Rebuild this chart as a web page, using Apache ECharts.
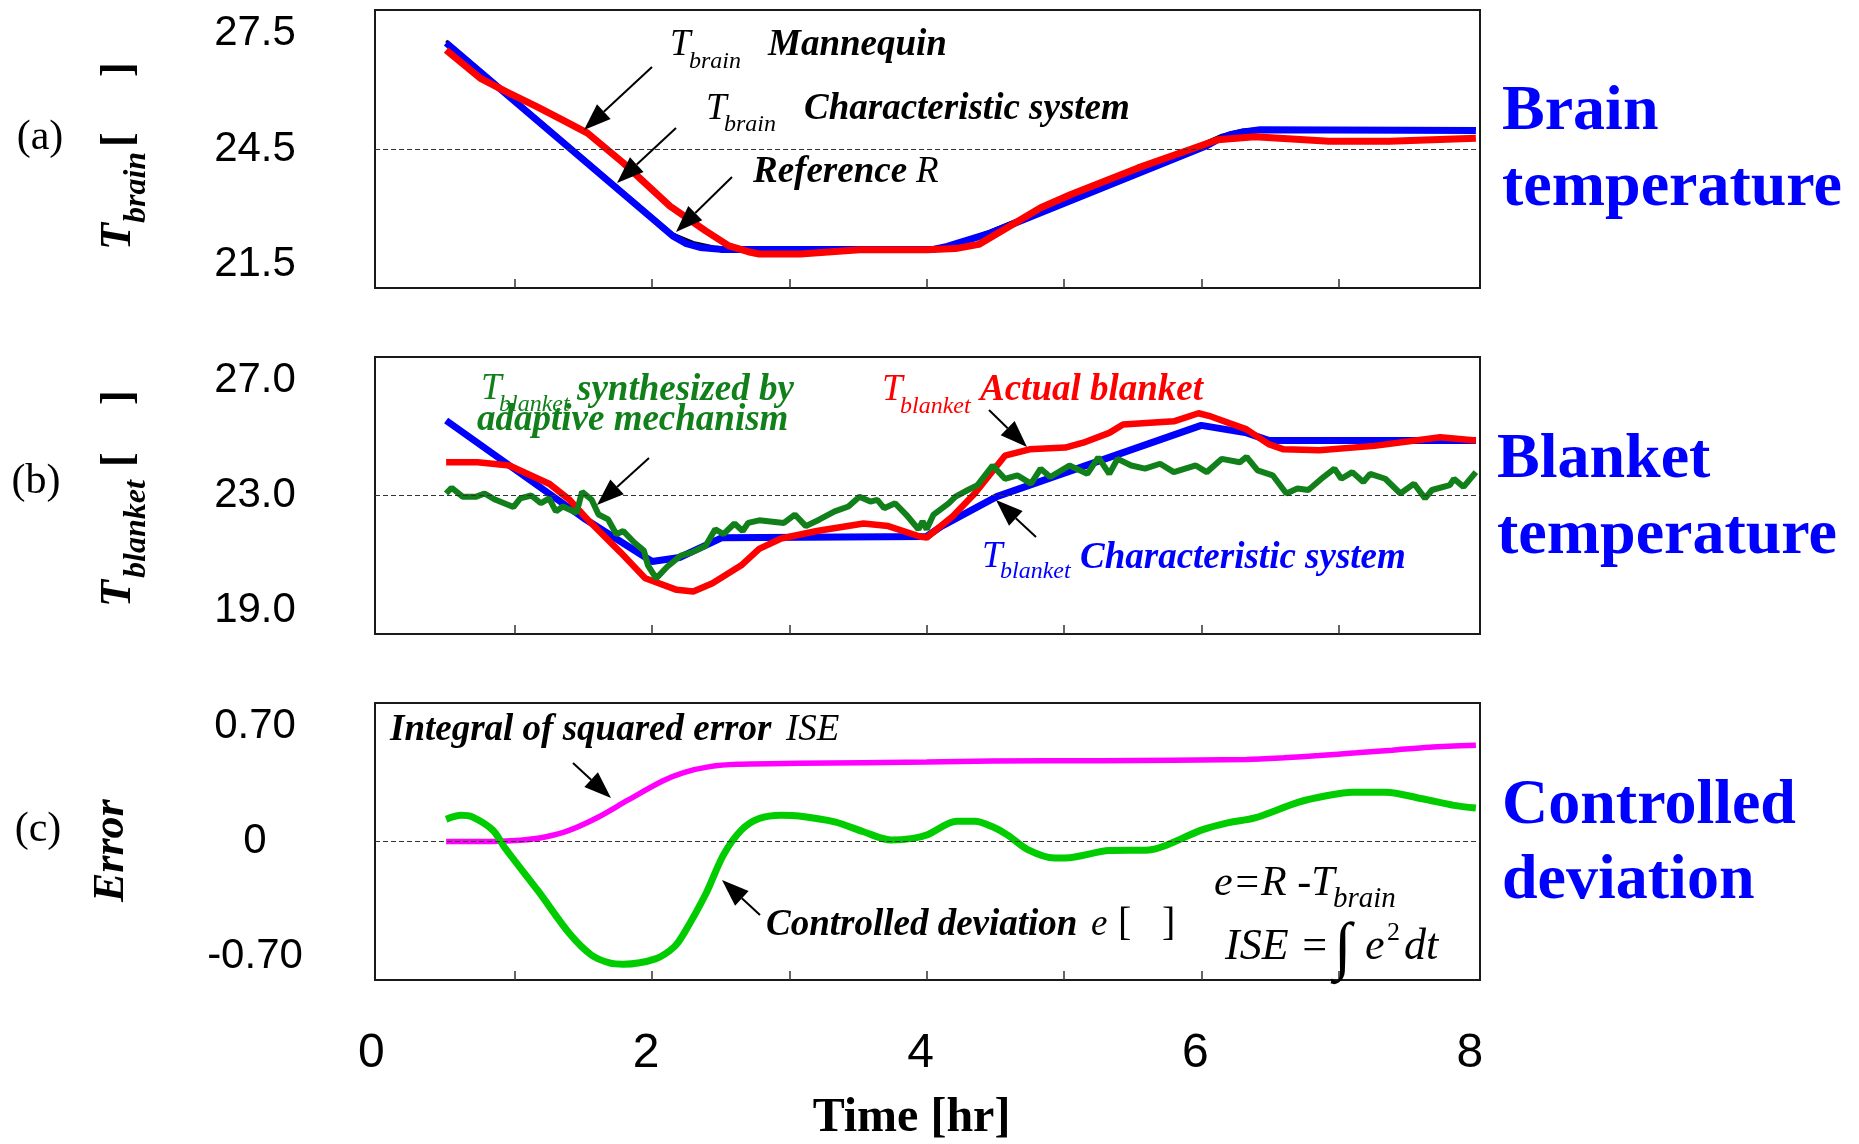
<!DOCTYPE html>
<html>
<head>
<meta charset="utf-8">
<script src="https://cdn.jsdelivr.net/npm/echarts@6/dist/echarts.min.js"></script>
<style>
html, body { margin: 0; padding: 0; background: #fff; }
#chart { width: 1859px; height: 1144px; }
</style>
</head>
<body>
<div id="chart"></div>
<script>
// (a) brain temperature
const refR = [[0.5,27.3],[2.15,22.3],[2.3,22.08],[2.45,21.96],[2.6,21.92],[4.0,21.92],[4.15,22.0],[4.3,22.17],[4.45,22.36],[6.0,24.62],[6.15,24.86],[6.3,24.99],[6.45,25.03],[8.0,25.03]];
const brainChar = [[0.5,27.25],[2.15,22.25],[2.25,22.05],[2.35,21.95],[2.5,21.9],[4.05,21.9],[4.15,21.98],[4.25,22.09],[4.47,22.33],[6.03,24.57],[6.12,24.74],[6.21,24.87],[6.32,24.95],[6.43,25.0],[8.0,24.98]];
const brainMannequin = [[0.5,27.06],[0.75,26.33],[0.94,25.98],[1.16,25.6],[1.35,25.25],[1.53,24.91],[1.79,24.14],[2.13,23.02],[2.39,22.38],[2.56,21.99],[2.7,21.84],[2.78,21.78],[3.08,21.78],[3.51,21.89],[4.0,21.89],[4.21,21.92],[4.38,22.03],[4.61,22.51],[4.83,22.98],[5.05,23.32],[5.54,24.01],[5.81,24.35],[6.12,24.74],[6.39,24.82],[6.93,24.7],[7.37,24.7],[8.0,24.78]];

// (b) blanket temperature
const blanketChar = [[0.5,25.6],[1.5,22.22],[2.0,20.71],[2.2,20.85],[2.51,21.54],[4.0,21.58],[4.11,21.94],[4.51,22.96],[6.0,25.43],[6.33,25.17],[6.49,24.91],[8.0,24.91]];
const blanketActual = [[0.5,24.15],[0.73,24.15],[0.96,24.04],[1.25,23.41],[1.4,22.85],[1.53,22.17],[1.77,21.03],[1.95,20.13],[2.18,19.73],[2.3,19.67],[2.44,19.96],[2.65,20.58],[2.78,21.15],[2.94,21.51],[3.2,21.77],[3.54,22.03],[3.72,21.94],[3.95,21.58],[4.0,21.54],[4.19,22.28],[4.35,23.07],[4.57,24.38],[4.75,24.6],[5.01,24.66],[5.14,24.83],[5.33,25.17],[5.43,25.46],[5.8,25.57],[5.98,25.85],[6.07,25.74],[6.33,25.29],[6.49,24.78],[6.6,24.6],[6.86,24.57],[7.26,24.72],[7.74,25.02],[8.0,24.91]];
const blanketAdaptive = [[0.5,23.07],[0.54,23.27],[0.62,22.96],[0.72,22.96],[0.78,23.07],[0.86,22.85],[0.99,22.6],[1.04,22.9],[1.12,23.0],[1.19,22.73],[1.25,22.9],[1.3,22.45],[1.35,22.62],[1.45,22.4],[1.49,23.13],[1.56,22.85],[1.61,22.34],[1.68,22.17],[1.74,21.66],[1.79,21.77],[1.87,21.37],[1.94,21.09],[1.97,20.58],[2.03,20.13],[2.11,20.53],[2.21,20.92],[2.29,21.03],[2.39,21.26],[2.46,21.83],[2.52,21.66],[2.6,22.03],[2.66,21.77],[2.7,22.05],[2.78,22.14],[2.96,22.05],[3.04,22.34],[3.12,21.94],[3.22,22.17],[3.33,22.45],[3.43,22.62],[3.51,22.96],[3.59,22.79],[3.64,22.85],[3.69,22.56],[3.77,22.73],[3.85,22.34],[3.94,21.83],[3.97,22.1],[4.0,21.83],[4.05,22.34],[4.16,22.73],[4.21,22.96],[4.3,23.19],[4.37,23.36],[4.48,24.04],[4.57,23.58],[4.66,23.7],[4.76,23.41],[4.83,23.93],[4.9,23.64],[5.04,24.04],[5.17,23.75],[5.25,24.32],[5.33,23.75],[5.39,24.27],[5.49,24.04],[5.59,23.93],[5.7,24.1],[5.8,23.81],[5.96,24.04],[6.04,23.81],[6.15,24.27],[6.28,24.15],[6.33,24.34],[6.41,23.87],[6.52,23.7],[6.62,23.07],[6.7,23.24],[6.78,23.19],[6.89,23.64],[6.97,23.93],[7.02,23.58],[7.1,23.81],[7.18,23.47],[7.23,23.75],[7.34,23.58],[7.45,23.07],[7.55,23.41],[7.63,22.9],[7.68,23.19],[7.81,23.36],[7.84,23.58],[7.91,23.3],[8.0,23.81]];

// (c) error
const ise = [[0.5,0.0],[0.83,0.0],[1.04,0.007],[1.22,0.027],[1.4,0.069],[1.61,0.149],[1.82,0.249],[2.08,0.368],[2.23,0.418],[2.42,0.454],[2.62,0.468],[3.07,0.474],[4.0,0.482],[4.48,0.488],[5.27,0.49],[6.33,0.498],[6.6,0.508],[6.86,0.522],[7.13,0.538],[7.39,0.554],[7.66,0.572],[8.0,0.584]];
const deviation = [[0.5,0.135],[0.61,0.159],[0.69,0.149],[0.84,0.069],[0.93,-0.041],[1.17,-0.3],[1.4,-0.56],[1.56,-0.69],[1.69,-0.736],[1.79,-0.744],[2.03,-0.71],[2.16,-0.64],[2.23,-0.56],[2.39,-0.32],[2.52,-0.081],[2.65,0.069],[2.78,0.139],[2.94,0.159],[3.07,0.155],[3.33,0.119],[3.54,0.059],[3.74,0.009],[3.9,0.019],[4.0,0.039],[4.22,0.123],[4.35,0.123],[4.48,0.089],[4.59,0.039],[4.74,-0.051],[4.93,-0.1],[5.01,-0.1],[5.33,-0.055],[5.62,-0.051],[5.75,-0.021],[6.0,0.069],[6.2,0.115],[6.39,0.143],[6.71,0.239],[6.92,0.279],[7.1,0.299],[7.34,0.299],[7.61,0.259],[7.84,0.219],[8.0,0.203]];

// axis ticks / labels
const xTicks = [1, 2, 3, 4, 5, 6, 7];
const xLabels = [0, 2, 4, 6, 8];
const yLabelsA = [21.5, 24.5, 27.5];
const yLabelsB = [19, 23, 27];
const yLabelsC = [-0.7, 0, 0.7];

const serif = '"Liberation Serif","Times New Roman",serif';
const sans = '"Liberation Sans",Arial,sans-serif';
const narrow = '"Liberation Sans Narrow","Arial Narrow","Liberation Sans",sans-serif';

const grids = [
  { left: 375, top: 10, width: 1105, height: 278 },
  { left: 375, top: 357, width: 1105, height: 277 },
  { left: 375, top: 703, width: 1105, height: 277 }
].map(g => Object.assign(g, { show: true, borderColor: '#1a1a1a', borderWidth: 2, backgroundColor: 'transparent' }));

function xAxisFor(i, last) {
  return {
    type: 'value', gridIndex: i, min: -0.018, max: 8.03,
    axisLine: { show: false, onZero: false },
    splitLine: { show: false },
    axisTick: { show: true, inside: true, length: 9, customValues: xTicks, lineStyle: { color: '#333', width: 1.5 } },
    axisLabel: last ? { show: true, customValues: xLabels, fontFamily: narrow, fontSize: 48, color: '#000', margin: 50, padding: [0, 12, 0, 0] } : { show: false },
    name: last ? 'Time [hr]' : '',
    nameLocation: 'middle', nameGap: 115,
    nameTextStyle: { fontFamily: serif, fontWeight: 'bold', fontSize: 48, color: '#000', padding: [0, 32, 0, 0] }
  };
}

function yAxisFor(i, min, max, labels, fmt) {
  return {
    type: 'value', gridIndex: i, min: min, max: max,
    axisLine: { show: false }, axisTick: { show: false }, splitLine: { show: false },
    axisLabel: { customValues: labels, formatter: fmt, fontFamily: sans, fontSize: 42, color: '#000', align: 'center', margin: 120 }
  };
}

function dashed(v) {
  return { silent: true, symbol: 'none', label: { show: false }, animation: false,
    lineStyle: { color: '#333', type: [5, 3], width: 1 }, data: [{ yAxis: v }] };
}

function line(name, data, gi, color, width, extra) {
  return Object.assign({
    name: name, type: 'line', data: data, xAxisIndex: gi, yAxisIndex: gi,
    symbol: 'none', showSymbol: false, lineStyle: { color: color, width: width }, itemStyle: { color: color }
  }, extra || {});
}

// text helpers: position given by left x and baseline y
function txt(x, base, s, size, font, color, align) {
  return { type: 'text', z: 50, style: { text: s, x: x, y: base - 0.34 * size, fontFamily: serif, fontSize: size,
    fontStyle: font.indexOf('i') >= 0 ? 'italic' : 'normal', fontWeight: font.indexOf('b') >= 0 ? 'bold' : 'normal',
    fill: color || '#000', textAlign: align || 'left', verticalAlign: 'middle' } };
}
// vertical text reading bottom to top: startY is the bottom end, baseX the baseline
function vtxt(baseX, startY, s, size, font) {
  return { type: 'text', z: 50, x: baseX - 0.34 * size, y: startY, rotation: Math.PI / 2,
    style: { text: s, x: 0, y: 0, fontFamily: serif, fontSize: size,
      fontStyle: font.indexOf('i') >= 0 ? 'italic' : 'normal', fontWeight: font.indexOf('b') >= 0 ? 'bold' : 'normal',
      fill: '#000', textAlign: 'left', verticalAlign: 'middle' } };
}
function arrow(x1, y1, x2, y2) {
  const dx = x2 - x1, dy = y2 - y1, L = Math.hypot(dx, dy), ux = dx / L, uy = dy / L;
  const hl = 27, hw = 10, bx = x2 - ux * hl, by = y2 - uy * hl;
  return [
    { type: 'line', z: 50, shape: { x1: x1, y1: y1, x2: bx, y2: by }, style: { stroke: '#000', lineWidth: 2 } },
    { type: 'polygon', z: 50, shape: { points: [[x2, y2], [bx - uy * hw, by + ux * hw], [bx + uy * hw, by - ux * hw]] }, style: { fill: '#000' } }
  ];
}

const BLUE = '#0000ff', RED = '#ff0000', DGREEN = '#11801a';

const graphics = [
  // panel labels
  txt(40, 152, '(a)', 42, '', '#000', 'center'),
  txt(36, 496, '(b)', 42, '', '#000', 'center'),
  txt(38, 844, '(c)', 42, '', '#000', 'center'),
  // y names
  vtxt(134, 250, 'T', 44, 'bi'), vtxt(148, 223, 'brain', 32, 'bi'),
  vtxt(135, 147, '[', 44, 'b'), vtxt(135, 77, ']', 44, 'b'),
  vtxt(134, 607, 'T', 44, 'bi'), vtxt(148, 578, 'blanket', 32, 'bi'),
  vtxt(135, 467, '[', 44, 'b'), vtxt(135, 405, ']', 44, 'b'),
  vtxt(127, 902, 'Error', 44, 'bi'),
  // right titles
  txt(1502, 134, 'Brain', 64, 'b', BLUE), txt(1502, 210, 'temperature', 64, 'b', BLUE),
  txt(1497, 482, 'Blanket', 64, 'b', BLUE), txt(1497, 558, 'temperature', 64, 'b', BLUE),
  txt(1502, 828, 'Controlled', 64, 'b', BLUE), txt(1502, 903, 'deviation', 64, 'b', BLUE),
  // panel (a) annotations
  txt(670, 58, 'T', 37, 'i'), txt(689, 70, 'brain', 24, 'i'), txt(768, 58, 'Mannequin', 37, 'bi'),
  txt(706, 122, 'T', 37, 'i'), txt(724, 133, 'brain', 24, 'i'), txt(804, 122, 'Characteristic system', 37, 'bi'),
  txt(753, 185, 'Reference', 37, 'bi'), txt(916, 185, 'R', 37, 'i'),
  // panel (b) annotations
  txt(481, 402, 'T', 37, 'i', DGREEN), txt(499, 413, 'blanket', 24, 'i', DGREEN),
  txt(577, 403, 'synthesized by', 37, 'bi', DGREEN), txt(477, 433, 'adaptive mechanism', 37, 'bi', DGREEN),
  txt(882, 403, 'T', 37, 'i', RED), txt(900, 415, 'blanket', 24, 'i', RED), txt(980, 403, 'Actual blanket', 37, 'bi', RED),
  txt(982, 570, 'T', 37, 'i', BLUE), txt(1000, 580, 'blanket', 24, 'i', BLUE), txt(1080, 571, 'Characteristic system', 37, 'bi', BLUE),
  // panel (c) annotations
  txt(390, 743, 'Integral of squared error', 37, 'bi'), txt(786, 743, 'ISE', 37, 'i'),
  txt(766, 938, 'Controlled deviation', 37, 'bi'), txt(1091, 938, 'e', 37, 'i'),
  txt(1118, 938, '[', 40, ''), txt(1162, 938, ']', 40, ''),
  txt(1214, 898, 'e=R -T', 42, 'i'), txt(1333, 909, 'brain', 29, 'i'),
  txt(1225, 962, 'ISE =', 44, 'i'), txt(1334, 972, '\u222B', 64, ''),
  txt(1365, 962, 'e', 44, 'i'), txt(1387, 942, '2', 26, ''), txt(1404, 962, 'dt', 44, 'i')
].concat(
  arrow(652, 67, 584, 130),
  arrow(676, 128, 617, 183),
  arrow(732, 177, 676, 232),
  arrow(649, 458, 597, 505),
  arrow(989, 410, 1027, 447),
  arrow(1036, 537, 996, 500),
  arrow(573, 763, 611, 798),
  arrow(760, 915, 722, 880)
);

const chart = echarts.init(document.getElementById('chart'), null, { renderer: 'canvas' });
chart.setOption({
  animation: false,
  backgroundColor: '#fff',
  grid: grids,
  xAxis: [xAxisFor(0, false), xAxisFor(1, false), xAxisFor(2, true)],
  yAxis: [
    yAxisFor(0, 20.9, 28.1, yLabelsA, v => v.toFixed(1)),
    yAxisFor(1, 18.2, 27.8, yLabelsB, v => v.toFixed(1)),
    yAxisFor(2, -0.84, 0.84, yLabelsC, v => (Math.abs(v) < 1e-9 ? '0' : v.toFixed(2)))
  ],
  series: [
    line('Reference R', refR, 0, '#000', 3, { markLine: dashed(24.5) }),
    line('T_brain Characteristic system', brainChar, 0, BLUE, 7),
    line('T_brain Mannequin', brainMannequin, 0, RED, 7),
    line('T_blanket Characteristic system', blanketChar, 1, BLUE, 7, { markLine: dashed(23) }),
    line('T_blanket Actual blanket', blanketActual, 1, RED, 6.5),
    line('T_blanket adaptive', blanketAdaptive, 1, DGREEN, 6),
    line('ISE', ise, 2, '#ff00ff', 5.5, { smooth: 0.3, markLine: dashed(0) }),
    line('Controlled deviation e', deviation, 2, '#00cc00', 7, { smooth: 0.3 })
  ],
  graphic: graphics
});
</script>
</body>
</html>
